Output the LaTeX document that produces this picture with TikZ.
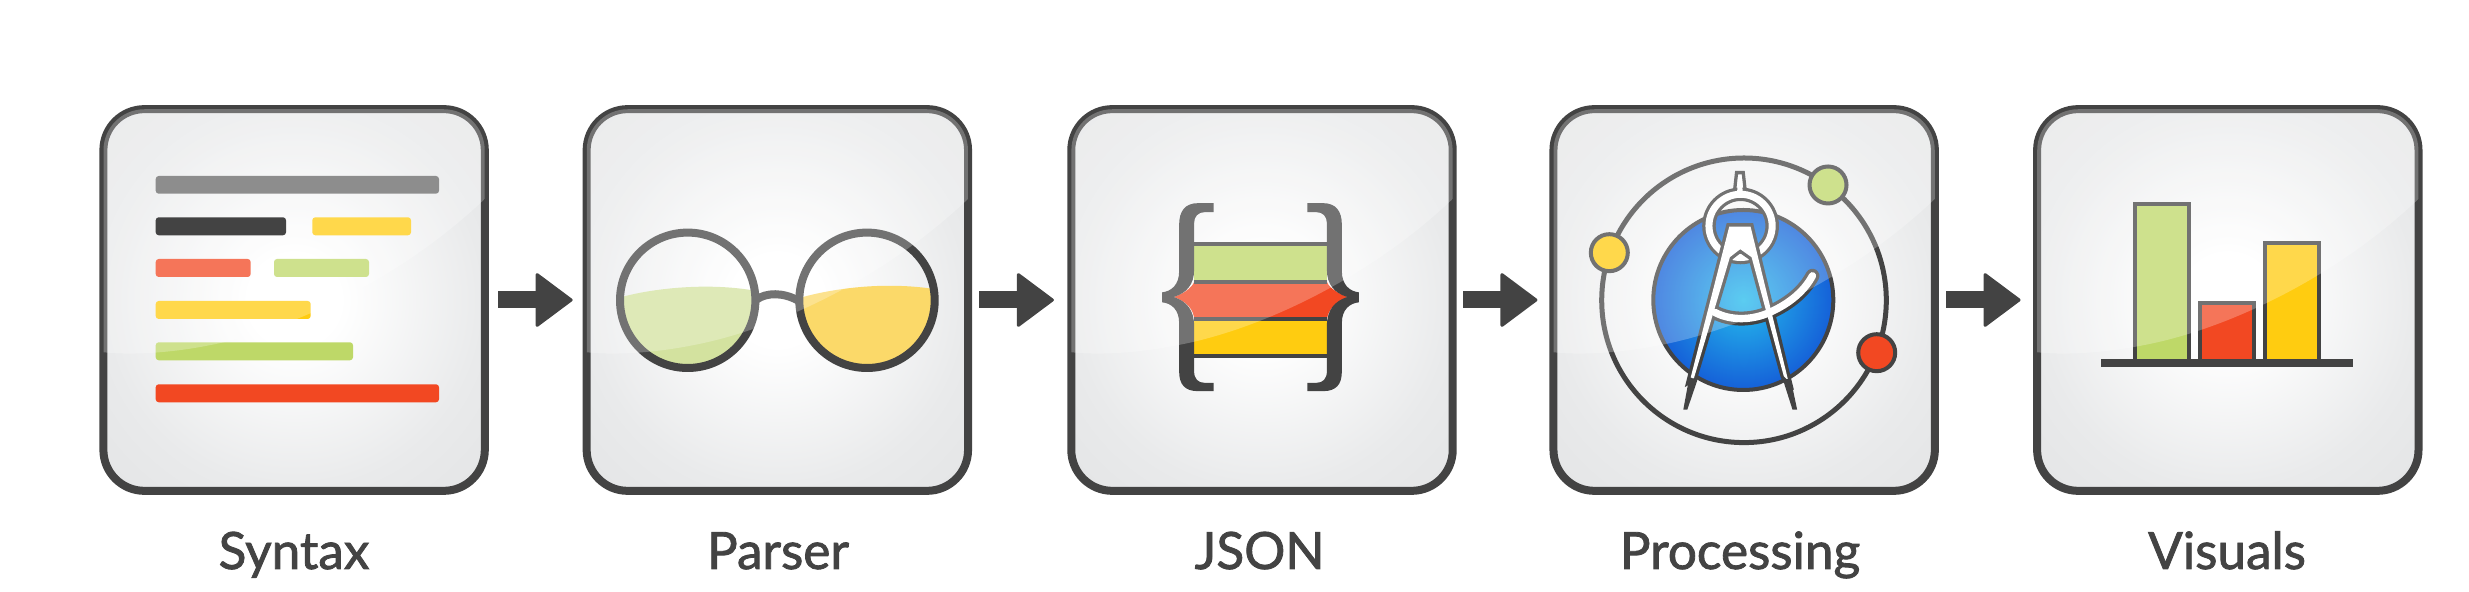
\documentclass[tikz,border=0pt]{standalone}
\usepackage{fontspec}
\setmainfont{Lato}[FakeBold=1.6]
\usetikzlibrary{arrows.meta}
\definecolor{dark}{HTML}{434343}
\definecolor{midgrey}{HTML}{686868}
\definecolor{leaf}{HTML}{BED868}
\definecolor{sun}{HTML}{FFCC10}
\definecolor{tomato}{HTML}{F24822}
\definecolor{lensgreen}{HTML}{D3E29F}
\definecolor{lensyellow}{HTML}{FBD969}
\definecolor{panelmid}{HTML}{E9EAEB}
\definecolor{paneledge}{HTML}{E5E6E7}
\definecolor{bluecore}{HTML}{25BCED}
\definecolor{blueedge}{HTML}{1560D8}
\pgfdeclareradialshading{panelbg}{\pgfpointorigin}{color(0bp)=(white); color(6bp)=(white); color(25bp)=(panelmid); color(33bp)=(paneledge); color(50bp)=(paneledge)}
\pgfdeclareradialshading{bluebg}{\pgfpointorigin}{color(0bp)=(bluecore); color(25bp)=(blueedge); color(50bp)=(blueedge)}
\tikzset{
  panel/.style={draw=dark,line width=.08cm,rounded corners=.41cm,minimum width=3.812cm,minimum height=3.815cm,inner sep=0pt,shading=panelbg},
  zc/.style 2 args={shift={(#1,#2)},x=0.0033333cm,y=-0.0033333cm},
  flow/.style={draw=dark,line width=.17cm,-{Triangle[length=.38cm,width=.56cm,round,line width=.03cm,fill=dark]}},
  caption/.style={text=dark,anchor=base,inner sep=0pt,font=\fontsize{14.6}{16}\selectfont},
  barline/.style={rounded corners=.03cm},
  ink/.style={draw=dark,line width=.04cm},
}
\newcommand{\glossover}[1]{%
  \begin{scope}[shift={(#1,105.25)}]
    \clip[rounded corners=.41cm] (4,4) rectangle (385.2,385.5);
    \fill[white,fill opacity=.25] (-1,-1) -- (395,-1) -- (395,85) -- (386,93)
      .. controls (300,175) and (190,225) .. (110,240)
      .. controls (70,248) and (30,250) .. (4,247) -- (-1,247) -- cycle;
  \end{scope}}
\newcommand{\jsonbrace}{%
  \fill[dark] (492,340) -- (445,340) .. controls (405,340) and (388,365) .. (388,405)
    -- (388,545) .. controls (388,585) and (365,605) .. (337,608) -- (337,638)
    .. controls (365,641) and (388,660) .. (388,700) -- (388,845)
    .. controls (388,885) and (405,905) .. (445,905) -- (492,905) -- (492,880) -- (465,880)
    .. controls (445,880) and (433,868) .. (433,845) -- (433,710)
    .. controls (433,660) and (410,635) .. (372,622)
    .. controls (410,610) and (433,585) .. (433,540) -- (433,400)
    .. controls (433,380) and (445,367) .. (465,367) -- (492,367) -- cycle;}
\begin{document}
\begin{tikzpicture}[x=0.01cm,y=-0.01cm]
\useasboundingbox (0,0) rectangle (2469,592);
% panels
\node[panel] (b1) at (294.1,300) {};
\node[panel] (b2) at (777.35,300) {};
\node[panel] (b3) at (1262,300) {};
\node[panel] (b4) at (1744.15,300) {};
\node[panel] (b5) at (2227.8,300) {};
% Syntax lines
\fill[midgrey,barline] (155.7,176) rectangle (439,193.7);
\fill[sun,barline] (312.3,217.3) rectangle (411,235.3);
\fill[tomato,barline] (155.7,259) rectangle (250.7,277);
\fill[leaf,barline] (274,259) rectangle (369,277);
\fill[sun,barline] (155.7,301) rectangle (310.7,319);
\fill[leaf,barline] (155.7,342.3) rectangle (353,360.3);
\fill[tomato,barline] (155.7,384.3) rectangle (439,402.3);
% Parser glasses
\begin{scope}
  \clip (687.7,300.3) circle (66);
  \begin{scope}[zc={570}{90}]
    \fill[lensgreen] (120,628) -- (163,620) .. controls (260,595) and (420,578) .. (560,604) -- (560,870) -- (120,870) -- cycle;
  \end{scope}
\end{scope}
\begin{scope}
  \clip (867,300.3) circle (66);
  \begin{scope}[zc={570}{90}]
    \fill[lensyellow] (680,626) -- (700,622) .. controls (800,595) and (950,575) .. (1100,599) -- (1100,870) -- (680,870) -- cycle;
  \end{scope}
\end{scope}
\draw[dark,line width=.08cm] (687.7,300.3) circle (67.7);
\draw[dark,line width=.08cm] (867,300.3) circle (67.7);
\begin{scope}[zc={570}{90}]
  \draw[dark,line width=.08cm] (560,630) .. controls (590,608) and (640,608) .. (684,632);
\end{scope}
% JSON
\begin{scope}[zc={1050}{90}]
  \fill[leaf] (433,470) rectangle (832,570);
  \fill[sun] (433,694) rectangle (832,793);
  \fill[tomato] (433,575) -- (832,575) .. controls (835,590) and (860,610) .. (895,622)
     .. controls (860,635) and (835,660) .. (832,690) -- (433,690)
     .. controls (433,660) and (410,635) .. (372,622)
     .. controls (410,610) and (433,585) .. (433,575) -- cycle;
  \fill[dark] (433,458) rectangle (832,470);
  \fill[dark] (433,570) rectangle (832,582);
  \fill[dark] (433,682) rectangle (832,694);
  \fill[dark] (433,793) rectangle (832,805);
  \jsonbrace
  \begin{scope}[shift={(1265,0)},xscale=-1]
    \jsonbrace
  \end{scope}
\end{scope}
% Processing
\draw[dark,line width=.05cm] (1744,300.3) circle (142.3);
\draw[ink,fill=leaf] (1828,185) circle (18.5);
\draw[ink,fill=sun] (1609.3,252.7) circle (18.5);
\draw[ink,fill=tomato] (1876.7,352.7) circle (18.5);
\draw[ink,shading=bluebg] (1743.3,300) circle (90);
\begin{scope}[zc={1670}{160}]
  \draw[dark,line width=.033cm,fill=white,line join=miter] (200,38) -- (220,38) -- (226,92) -- (194,92) -- cycle;
  \draw[dark,line width=.135cm] (212,198) circle (95);
  \draw[white,line width=.07cm] (212,198) circle (95);
  \fill[white] (205,48) -- (215,48) -- (219,105) -- (201,105) -- cycle;
  \def\legs{(178,200) -- (242,200) -- (355,662) -- (342,650) -- (245,292) -- (211,268) -- (180,292) -- (72,655) -- (60,662) -- cycle}
  \def\crossarc{(135,458) .. controls (180,482) and (240,482) .. (290,462) .. controls (350,437) and (400,400) .. (428,348)}
  \draw[dark,line width=.14cm,line cap=round] \crossarc;
  \draw[dark,line width=.066cm,line join=miter] \legs;
  \draw[white,line width=.074cm,line cap=round] \crossarc;
  \fill[white] \legs;
  \fill[dark] (40,750) -- (52,750) -- (82,662) -- (58,652) -- cycle;
  \fill[dark] (368,750) -- (382,750) -- (362,655) -- (340,662) -- cycle;
\end{scope}
% Visuals
\begin{scope}[zc={1920}{90}]
  \draw[dark,line width=.04cm,fill=leaf] (647,344) rectangle (808,815);
  \draw[dark,line width=.04cm,fill=tomato] (842,639) rectangle (1004,815);
  \draw[dark,line width=.04cm,fill=sun] (1037,459) rectangle (1199,815);
\end{scope}
% gloss
\glossover{99.5}
\glossover{582.75}
\glossover{1067.4}
\glossover{1549.55}
\glossover{2033.2}
% items above the gloss
\fill[dark,barline] (155.7,217.3) rectangle (286,235.3);
\begin{scope}[zc={1920}{90}]
  \fill[dark] (543,808) rectangle (1301,832);
\end{scope}
% connectors
\draw[flow,shorten <=.093cm,shorten >=.10cm] (b1.east) -- (b2.west);
\draw[flow,shorten <=.074cm,shorten >=.134cm] (b2.east) -- (b3.west);
\draw[flow,shorten <=.067cm,shorten >=.12cm] (b3.east) -- (b4.west);
\draw[flow,shorten <=.073cm,shorten >=.125cm] (b4.east) -- (b5.west);
% captions
\node[caption] (l1) at (294,569) {Syntax};
\node[caption] (l2) at (778,569) {Parser};
\node[caption] (l3) at (1259.6,569) {JSON};
\node[caption] (l4) at (1740,569) {Processing};
\node[caption] (l5) at (2227,569) {Visuals};
\end{tikzpicture}
\end{document}
